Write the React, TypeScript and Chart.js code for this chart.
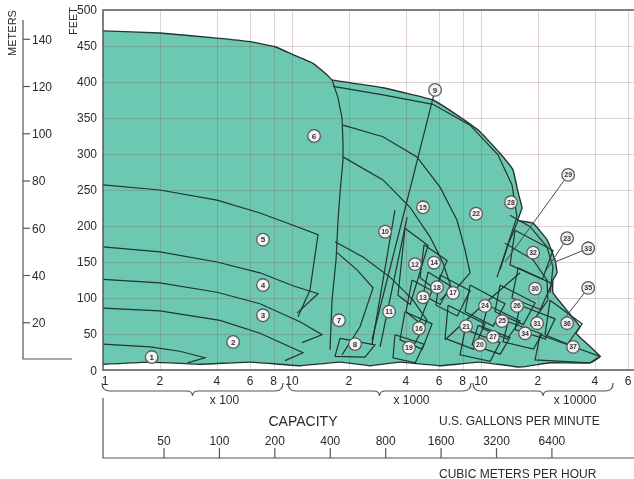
import React, { useEffect, useRef } from 'react';
import { Chart, registerables } from 'chart.js';
Chart.register(...registerables);

type P = [number, number];

// ---- data: capacity (US gallons per minute) vs total head (feet) ----
const envelope: P[] = [
  [100, 471], [200, 468], [401, 461], [600, 456], [813, 449], [1012, 438], [1291, 426], [1532, 410], [1629, 403],
  [3030, 392], [5570, 375], [7470, 354], [9880, 331], [12600, 301], [14760, 278], [15700, 247], [16480, 225],
  [15700, 208], [18840, 204], [22340, 181], [24640, 153], [25250, 135], [24040, 125], [24040, 107], [33400, 60],
  [31840, 51], [42650, 19], [37760, 10], [23200, 10], [16090, 4], [9880, 11], [6070, 6], [3730, 11], [2590, 6],
  [1795, 11], [1100, 6], [600, 11], [326, 8], [177, 11], [100, 8],
];
const curve1: P[] = [[100, 36], [177, 32], [255, 26], [346, 17], [280, 10]];
const curve2: P[] = [[100, 86], [200, 82], [416, 69], [677, 51], [1143, 24], [918, 13]];
const curve3: P[] = [[100, 126], [200, 121], [401, 108], [677, 92], [1102, 67], [1442, 49], [1130, 38]];
const curve4: P[] = [[100, 171], [200, 164], [401, 150], [677, 135], [1012, 117], [1373, 106], [1063, 79]];
const curve5: P[] = [[100, 257], [200, 250], [401, 236], [677, 218], [1012, 201], [1373, 188], [1245, 111], [1076, 74]];
const edge6: P[] = [[1629, 403], [1752, 378], [1840, 350], [1862, 315], [1862, 292], [1795, 246], [1752, 208], [1710, 153], [1629, 97], [1589, 28]];
const curveA: P[] = [[1648, 394], [3030, 382], [5570, 369], [8750, 340], [12300, 299], [14590, 257], [15500, 213], [13730, 171], [12160, 129]];
const curveB: P[] = [[1862, 340], [3030, 324], [4580, 296], [6070, 254], [7470, 208], [8230, 167], [8750, 135], [7280, 111]];
const curveC: P[] = [[1862, 296], [3030, 264], [4210, 226], [5370, 185], [6290, 149], [7030, 111], [6070, 97]];
const curve7: P[] = [[1732, 163], [2208, 139], [2684, 114], [2291, 60], [1840, 21]];
const curve11: P[] = [[1689, 178], [2375, 157], [3300, 129], [4370, 97], [5180, 69], [4210, 24]];
const tile8: P[] = [[1795, 44], [2748, 35], [2434, 18], [1689, 19], [1795, 44]];
const line9: P[] = [[5713, 389], [2650, 42]];
const line9b: P[] = [[3506, 222], [2650, 35]];
const line12: P[] = [[4060, 212], [2924, 32]];
const curve29: P[] = [[15710, 208], [13910, 174], [12610, 139]];
const curve32: P[] = [[14240, 215], [18180, 199], [22340, 171], [24040, 143], [23200, 107]];
const curve30: P[] = [[13400, 176], [18860, 153], [22340, 125], [22600, 97], [18180, 62]];
const cross1: P[] = [[16090, 135], [9534, 83], [6455, 42]];

const tile12: P[] = [[3962, 197], [5247, 173], [4220, 91], [3637, 104], [3962, 197]];
const tile13: P[] = [[4315, 125], [5507, 110], [4710, 66], [4010, 81], [4315, 125]];
const tile14: P[] = [[4995, 174], [6612, 152], [5730, 112], [4757, 128], [4995, 174]];
const tile16: P[] = [[3962, 81], [5507, 64], [4890, 29], [3727, 42], [3962, 81]];
const tile17: P[] = [[6072, 132], [8755, 110], [7490, 75], [5782, 90], [6072, 132]];
const tile18: P[] = [[5247, 136], [6860, 117], [6090, 91], [4934, 104], [5247, 136]];
const tile19: P[] = [[3506, 49], [4995, 36], [4490, 10], [3422, 17], [3506, 49]];
const tile20: P[] = [[8238, 56], [12610, 38], [11190, 12], [7750, 21], [8238, 56]];
const tile21: P[] = [[6697, 90], [10500, 64], [9110, 29], [6455, 44], [6697, 90]];
const tile24: P[] = [[8755, 118], [13400, 92], [11600, 61], [8238, 81], [8755, 118]];
const tile25: P[] = [[10890, 90], [16090, 68], [13760, 43], [10123, 58], [10890, 90]];
const tile26: P[] = [[12610, 118], [19330, 93], [16750, 63], [11860, 81], [12610, 118]];
const tile27: P[] = [[9657, 62], [14240, 45], [12640, 22], [8971, 35], [9657, 62]];
const tile30: P[] = [[15710, 142], [23770, 120], [20590, 84], [14590, 100], [15710, 142]];
const tile31: P[] = [[16090, 90], [24660, 71], [21890, 43], [15140, 56], [16090, 90]];
const tile32: P[] = [[15140, 194], [24060, 166], [21100, 126], [14240, 146], [15140, 194]];
const tile34: P[] = [[13910, 67], [21050, 50], [18920, 29], [13080, 39], [13910, 67]];
const tile36: P[] = [[23200, 97], [34280, 64], [28620, 36], [21830, 49], [23200, 97]];
const tile37: P[] = [[20540, 49], [42690, 19], [37790, 10], [19330, 14], [20540, 49]];

const outlines: P[][] = [
  curve1, curve2, curve3, curve4, curve5, edge6, curveA, curveB, curveC, curve7, curve11, tile8, line9, line9b,
  line12, curve29, curve32, curve30, cross1, tile12, tile13, tile14, tile16, tile17, tile18, tile19, tile20, tile21,
  tile24, tile25, tile26, tile27, tile30, tile31, tile32, tile34, tile36, tile37,
];

const labelIds: number[] = Array.from({ length: 37 }, (_, i) => i + 1);
const labelPoints: P[] = [
  [181, 18], [488, 39], [702, 76], [702, 118], [702, 181], [1309, 325], [1773, 69], [2156, 36], [5713, 389],
  [3108, 192], [3263, 81], [4476, 147], [4934, 101], [5643, 149], [4934, 226], [4699, 58], [7116, 107],
  [5852, 115], [4160, 31], [9880, 35], [8339, 61], [9420, 217], [28540, 183], [10500, 89], [12920, 68],
  [15510, 89], [11580, 46], [14410, 233], [28910, 271], [19330, 113], [19800, 65], [18860, 163], [36900, 169],
  [17100, 51], [36900, 114], [28540, 65], [30710, 32],
];
const leaderIds: number[] = [29, 23, 33, 35];
const leaderTargets: P[] = [[13400, 150], [21830, 136], [24660, 150], [26860, 67]];

const feetTicks: number[] = [0, 50, 100, 150, 200, 250, 300, 350, 400, 450, 500];
const meterTicks: number[] = [20, 40, 60, 80, 100, 120, 140];
const gpmGrid: number[] = [200, 400, 600, 800, 1000, 2000, 4000, 6000, 8000, 10000, 20000, 40000, 60000];
const gpmTickValues: number[] = [100, 200, 400, 600, 800, 1000, 2000, 4000, 6000, 8000, 10000, 20000, 40000, 60000];
const gpmTickLabels: string[] = ['1', '2', '4', '6', '8', '10', '2', '4', '6', '8', '10', '2', '4', '6'];
const multiplierLabels: string[] = ['x 100', 'x 1000', 'x 10000'];
const cmhTicks: number[] = [50, 100, 200, 400, 800, 1600, 3200, 6400];

const FT_PER_M = 3.28084;
const TEAL = '#6cc8b1';
const LINE = '#22352f';
const TEXT = '#2a2a2a';
const FONT = "'Liberation Sans', Arial, sans-serif";

const toXY = (pts: P[]) => pts.map(([x, y]) => ({ x, y }));

const decor = {
  id: 'decor',
  beforeDatasetsDraw(chart: any) {
    const { ctx, chartArea: a, scales } = chart;
    const xs = scales.x, ys = scales.y;
    ctx.save();
    ctx.strokeStyle = 'rgba(120,70,70,0.24)';
    ctx.lineWidth = 1;
    gpmGrid.forEach((v) => {
      const px = Math.round(xs.getPixelForValue(v)) + 0.5;
      ctx.beginPath(); ctx.moveTo(px, a.top); ctx.lineTo(px, a.bottom); ctx.stroke();
    });
    feetTicks.slice(1, -1).forEach((v) => {
      const py = Math.round(ys.getPixelForValue(v)) + 0.5;
      ctx.beginPath(); ctx.moveTo(a.left, py); ctx.lineTo(a.right, py); ctx.stroke();
    });
    ctx.restore();
  },
  afterDatasetsDraw(chart: any) {
    const { ctx, chartArea: a, scales } = chart;
    const xs = scales.x, ys = scales.y;
    ctx.save();
    ctx.strokeStyle = '#4a4a4a';
    ctx.lineWidth = 1;
    leaderIds.forEach((id, i) => {
      const lp = labelPoints[id - 1];
      const t = leaderTargets[i];
      ctx.beginPath();
      ctx.moveTo(xs.getPixelForValue(lp[0]), ys.getPixelForValue(lp[1]));
      ctx.lineTo(xs.getPixelForValue(t[0]), ys.getPixelForValue(t[1]));
      ctx.stroke();
    });
    labelIds.forEach((id, i) => {
      const [gx, gy] = labelPoints[i];
      const cx = xs.getPixelForValue(gx), cy = ys.getPixelForValue(gy);
      ctx.beginPath();
      ctx.arc(cx, cy, 6.3, 0, Math.PI * 2);
      ctx.fillStyle = '#f3f3f1';
      ctx.fill();
      ctx.lineWidth = 1.3;
      ctx.strokeStyle = '#5a5a5a';
      ctx.stroke();
      ctx.fillStyle = '#333';
      ctx.font = `bold ${id > 9 ? 7 : 8}px ${FONT}`;
      ctx.textAlign = 'center';
      ctx.textBaseline = 'middle';
      ctx.fillText(String(id), cx, cy + 0.5);
    });
    ctx.strokeStyle = '#555';
    ctx.lineWidth = 1.5;
    ctx.beginPath();
    ctx.moveTo(a.right, a.top); ctx.lineTo(a.left, a.top); ctx.lineTo(a.left, a.bottom); ctx.lineTo(a.right, a.bottom);
    ctx.stroke();
    ctx.restore();
  },
  afterDraw(chart: any) {
    const { ctx, chartArea: a, scales } = chart;
    const xs = scales.x, ys = scales.y, x2 = scales.x2;
    ctx.save();
    ctx.fillStyle = TEXT;
    ctx.strokeStyle = '#555';
    ctx.lineWidth = 1.2;
    ctx.font = `12px ${FONT}`;
    ctx.textAlign = 'right';
    ctx.textBaseline = 'middle';
    feetTicks.forEach((v) => ctx.fillText(String(v), a.left - 6, ys.getPixelForValue(v) + (v === 0 ? 2 : 1)));
    const mx = 23;
    ctx.beginPath();
    ctx.moveTo(mx, a.top + 10); ctx.lineTo(mx, a.bottom - 11); ctx.lineTo(72, a.bottom - 11);
    ctx.stroke();
    ctx.textAlign = 'left';
    meterTicks.forEach((m) => {
      const py = ys.getPixelForValue(m * FT_PER_M);
      ctx.beginPath(); ctx.moveTo(mx, py); ctx.lineTo(mx + 7, py); ctx.stroke();
      ctx.fillText(String(m), mx + 9, py + 1);
    });
    ctx.font = `11px ${FONT}`;
    ctx.textAlign = 'center';
    ctx.save(); ctx.translate(13, 33); ctx.rotate(-Math.PI / 2); ctx.fillText('METERS', 0, 0); ctx.restore();
    ctx.save(); ctx.translate(74, 21); ctx.rotate(-Math.PI / 2); ctx.fillText('FEET', 0, 0); ctx.restore();
    ctx.font = `12px ${FONT}`;
    gpmTickValues.forEach((v, i) => {
      ctx.fillText(gpmTickLabels[i], xs.getPixelForValue(v) + (i === 0 ? 2 : 0), a.bottom + 12);
    });
    const braces: [number, number][] = [
      [xs.getPixelForValue(100) - 1, xs.getPixelForValue(1000) - 9],
      [xs.getPixelForValue(1000) - 4, xs.getPixelForValue(10000) - 10],
      [xs.getPixelForValue(10000) - 8, xs.getPixelForValue(50000)],
    ];
    const by = a.bottom + 21;
    braces.forEach(([l, r], i) => {
      const m = (l + r) / 2;
      ctx.beginPath();
      ctx.moveTo(l, by - 8);
      ctx.quadraticCurveTo(l, by, l + 8, by);
      ctx.lineTo(m - 6, by);
      ctx.quadraticCurveTo(m, by, m, by + 5);
      ctx.quadraticCurveTo(m, by, m + 6, by);
      ctx.lineTo(r - 8, by);
      ctx.quadraticCurveTo(r, by, r, by - 8);
      ctx.stroke();
      ctx.fillText(multiplierLabels[i], m + 32, by + 10);
    });
    ctx.font = `14px ${FONT}`;
    ctx.fillText('CAPACITY', 303, a.bottom + 52);
    ctx.font = `12px ${FONT}`;
    ctx.textAlign = 'left';
    ctx.fillText('U.S. GALLONS PER MINUTE', 439, a.bottom + 52);
    const ay = a.bottom + 88;
    ctx.beginPath();
    ctx.moveTo(a.left, a.bottom + 28); ctx.lineTo(a.left, ay); ctx.lineTo(a.right, ay);
    ctx.stroke();
    ctx.textAlign = 'center';
    cmhTicks.forEach((v) => {
      const px = x2.getPixelForValue(v);
      ctx.beginPath(); ctx.moveTo(px, ay - 10); ctx.lineTo(px, ay); ctx.stroke();
      ctx.fillText(String(v), px, ay - 16);
    });
    ctx.textAlign = 'left';
    ctx.fillText('CUBIC METERS PER HOUR', 439, ay + 17);
    ctx.restore();
  },
};

export default function App() {
  const ref = useRef<HTMLCanvasElement | null>(null);
  useEffect(() => {
    document.body.style.margin = '0';
    const canvas = ref.current;
    if (!canvas) return;
    const datasets: any[] = [
      {
        data: toXY(envelope),
        fill: 'shape',
        backgroundColor: TEAL,
        borderColor: LINE,
        borderWidth: 1.4,
        pointRadius: 0,
        tension: 0.1,
      },
      ...outlines.map((o) => ({
        data: toXY(o),
        fill: false,
        borderColor: LINE,
        borderWidth: 1.2,
        pointRadius: 0,
        tension: 0,
      })),
    ];
    const chart = new Chart(canvas, {
      type: 'line',
      data: { datasets },
      options: {
        animation: false,
        responsive: false,
        devicePixelRatio: 1,
        events: [],
        layout: { padding: { left: 103, top: 10, right: 0, bottom: 109 } },
        scales: {
          x: { type: 'logarithmic', min: 100, max: 64500, display: false },
          x2: { type: 'logarithmic', axis: 'x', min: 23.3, max: 17870, display: false },
          y: { type: 'linear', min: 0, max: 500, display: false },
        },
        plugins: {
          legend: { display: false },
          tooltip: { enabled: false },
          filler: { drawTime: 'beforeDatasetsDraw' },
        },
      } as any,
      plugins: [decor],
    });
    return () => chart.destroy();
  }, []);
  return <canvas ref={ref} width={634} height={479} style={{ display: 'block' }} />;
}
